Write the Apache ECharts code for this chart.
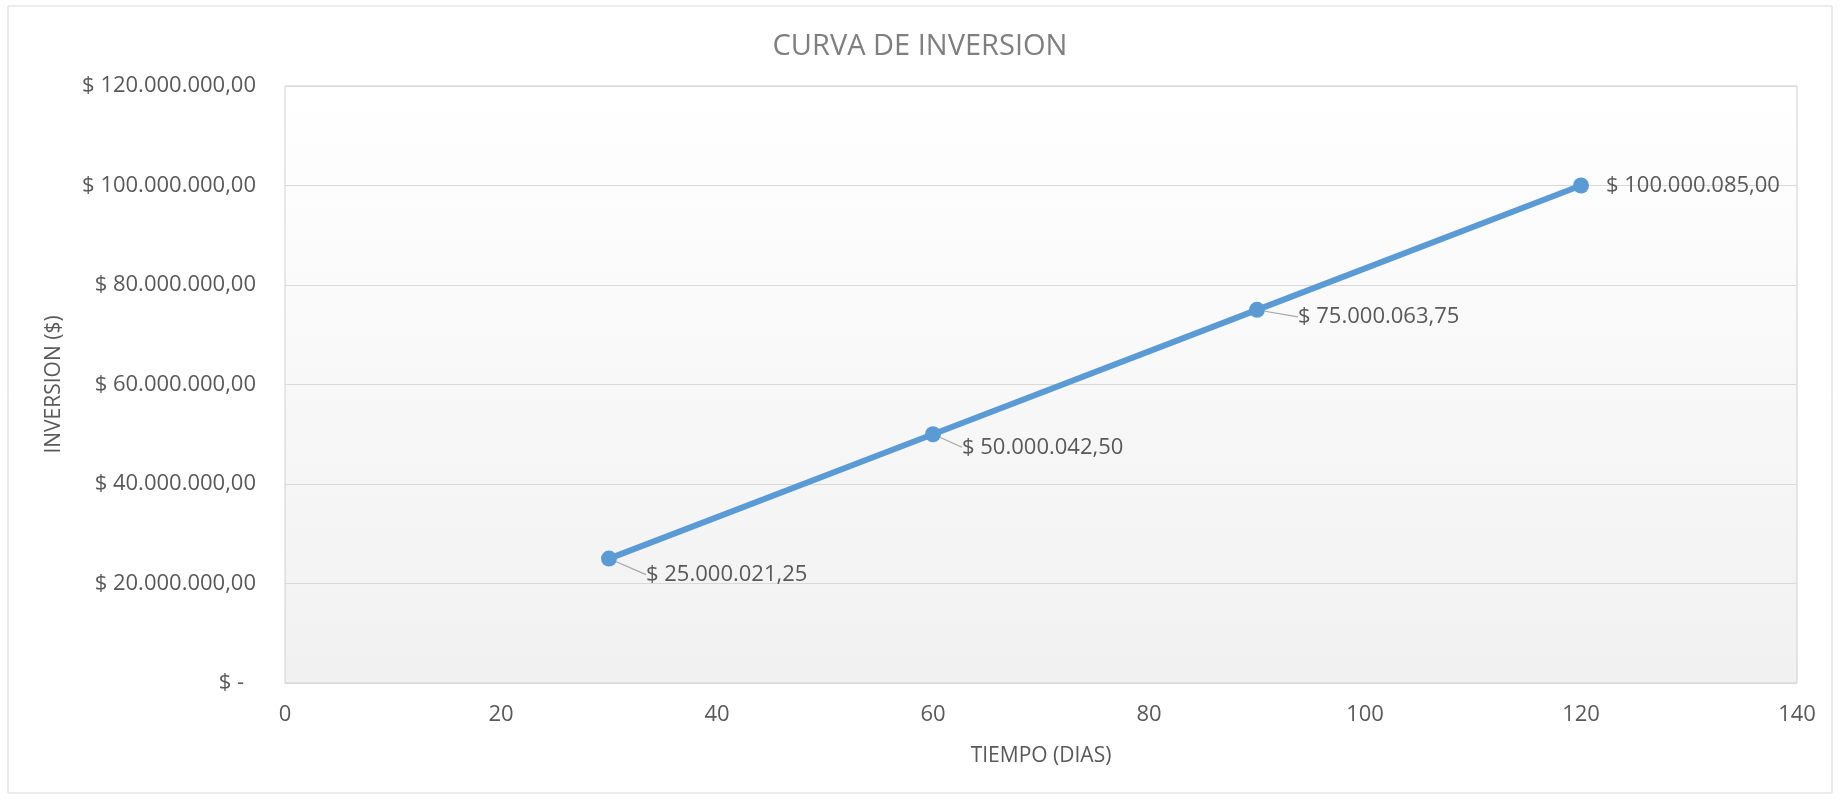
<!DOCTYPE html>
<html>
<head>
<meta charset="utf-8">
<script src="https://cdn.jsdelivr.net/npm/echarts@6/dist/echarts.min.js"></script>
<style>
    html, body { margin: 0; padding: 0; background: #fff; }
    #chart { width: 1840px; height: 799px; }
</style>
</head>
<body>
<div id="chart"></div>
<script>
var dias = [30, 60, 90, 120];
var inversion = [25000021.25, 50000042.50, 75000063.75, 100000085.00];
var tituloGrafica = 'CURVA DE INVERSION';
var nombreEjeX = 'TIEMPO (DIAS)';
var nombreEjeY = 'INVERSION ($)';

// formato moneda estilo excel: $ 1.234.567,89
function formatoPesos(v, decimales) {
    if (v === 0) return '$ -';
    var partes = v.toFixed(decimales).split('.');
    var entero = partes[0].replace(/\B(?=(\d{3})+(?!\d))/g, '.');
    return '$ ' + entero + ',' + partes[1];
}

var puntos = dias.map(function (d, i) {
    var item = { value: [d, inversion[i]] };
    // la ultima etiqueta va pegada al punto, sin linea guia
    if (i === dias.length - 1) item.labelLine = { show: false };
    return item;
});

var chart = echarts.init(document.getElementById('chart'));
var fuente = '"Open Sans", "Noto Sans", sans-serif';
var option = {
    backgroundColor: '#fff',
    animation: false,
    textStyle: { fontFamily: fuente },
    title: {
        text: tituloGrafica,
        left: 'center',
        top: 27,
        textStyle: { color: '#7f7f7f', fontSize: 29, fontWeight: 'normal', fontFamily: fuente }
    },
    graphic: [{
        type: 'rect',
        shape: { x: 8, y: 6, width: 1824, height: 787 },
        style: { fill: 'none', stroke: '#d9d9d9', lineWidth: 1 },
        silent: true
    }],
    grid: {
        left: 285,
        right: 43,
        top: 86,
        bottom: 116,
        show: true,
        borderColor: '#d0d0d0',
        borderWidth: 1,
        backgroundColor: new echarts.graphic.LinearGradient(0, 0, 0, 1, [
            { offset: 0, color: '#ffffff' },
            { offset: 1, color: '#f1f1f1' }
        ])
    },
    xAxis: {
        type: 'value',
        min: 0,
        max: 140,
        interval: 20,
        name: nombreEjeX,
        nameLocation: 'middle',
        nameGap: 63,
        nameTextStyle: { color: '#595959', fontSize: 21 },
        axisLine: { show: false },
        axisTick: { show: false },
        splitLine: { show: false },
        axisLabel: { color: '#595959', fontSize: 22, margin: 21 }
    },
    yAxis: {
        type: 'value',
        min: 0,
        max: 120000000,
        interval: 20000000,
        name: nombreEjeY,
        nameLocation: 'middle',
        nameGap: 220,
        nameRotate: 90,
        nameTextStyle: { color: '#595959', fontSize: 21 },
        axisLine: { show: false },
        axisTick: { show: false },
        splitLine: { lineStyle: { color: '#d9d9d9', width: 1 } },
        axisLabel: {
            color: '#595959',
            fontSize: 22,
            margin: 29,
            formatter: function (v) {
                if (v === 0) return '{c|$ -}';
                return formatoPesos(v, 2);
            },
            rich: {
                c: { color: '#595959', fontSize: 22, padding: [0, 12, 0, 0] }
            }
        }
    },
    series: [{
        type: 'line',
        data: puntos,
        symbol: 'circle',
        symbolSize: 16,
        lineStyle: { color: '#5b9bd5', width: 6 },
        itemStyle: { color: '#5b9bd5' },
        label: {
            show: true,
            position: 'right',
            distance: 17,
            color: '#595959',
            fontSize: 22,
            formatter: function (p) {
                return formatoPesos(p.value[1], 2);
            }
        },
        labelLine: {
            show: true,
            lineStyle: { color: '#a6a6a6', width: 1.2 }
        },
        labelLayout: function (p) {
            // desplazamiento de las etiquetas como en excel
            var off = [[12, 16], [4, 13], [16, 7], [0, 0]][p.dataIndex];
            return { dx: off[0], dy: off[1] };
        }
    }]
};
chart.setOption(option);
</script>
</body>
</html>
